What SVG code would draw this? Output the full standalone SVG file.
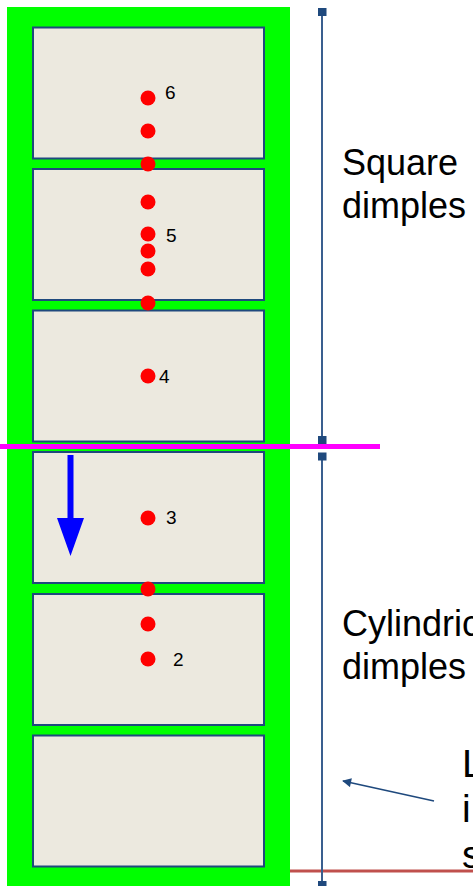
<svg xmlns="http://www.w3.org/2000/svg" width="473" height="886" viewBox="0 0 473 886">
<style>
.box{fill:#ece9df;stroke:#1f497d;stroke-width:2}
.dot{fill:#ff0000}
.num{font-family:"Liberation Sans",Arial,sans-serif;font-size:19px;fill:#000}
.lbl{font-family:"Liberation Sans",Arial,sans-serif;font-size:36px;fill:#000}
.lbl2{font-family:"Liberation Sans",Arial,sans-serif;font-size:39px;fill:#000}
.dim{stroke:#3a5f8f;stroke-width:2;fill:none}
.mk{fill:#1f497d}
</style>
<defs>
<marker id="ah" viewBox="0 0 10 10" refX="9" refY="5" markerWidth="12" markerHeight="9" markerUnits="userSpaceOnUse" orient="auto">
<path d="M0,0 L10,5 L0,10 z" fill="#1f497d"/>
</marker>
</defs>
<rect id="frame" x="7" y="7" width="283" height="879" fill="#00ff00"/>
<g id="box1"><rect class="box" x="33" y="27.5" width="231" height="131"/></g>
<g id="box2"><rect class="box" x="33" y="169" width="231" height="131"/></g>
<g id="box3"><rect class="box" x="33" y="310.5" width="231" height="131"/></g>
<g id="box4"><rect class="box" x="33" y="452" width="231" height="131"/></g>
<g id="box5"><rect class="box" x="33" y="594" width="231" height="131"/></g>
<g id="box6"><rect class="box" x="33" y="735.5" width="231" height="131"/></g>
<g id="dots">
<circle class="dot" cx="148" cy="98" r="7.5"/>
<circle class="dot" cx="148" cy="131" r="7.5"/>
<circle class="dot" cx="148" cy="164" r="7.5"/>
<circle class="dot" cx="148" cy="202" r="7.5"/>
<circle class="dot" cx="148" cy="234" r="7.5"/>
<circle class="dot" cx="148" cy="251" r="7.5"/>
<circle class="dot" cx="148" cy="269" r="7.5"/>
<circle class="dot" cx="148" cy="303" r="7.5"/>
<circle class="dot" cx="148" cy="376" r="7.5"/>
<circle class="dot" cx="148" cy="518" r="7.5"/>
<circle class="dot" cx="148" cy="589" r="7.5"/>
<circle class="dot" cx="148" cy="624" r="7.5"/>
<circle class="dot" cx="148" cy="659" r="7.5"/>
</g>
<g id="numbers">
<text class="num" x="165" y="99">6</text>
<text class="num" x="166" y="242">5</text>
<text class="num" x="159" y="383">4</text>
<text class="num" x="166" y="524">3</text>
<text class="num" x="173" y="666">2</text>
</g>
<g id="connectors">
<line x1="0" y1="446.5" x2="380" y2="446.5" stroke="#ff00ff" stroke-width="5"/>
<line x1="290" y1="871" x2="473" y2="871" stroke="#c0504d" stroke-width="3"/>
<path d="M67.5,455 H73.5 V518 H84 L70.5,556 L57,518 H67.5 Z" fill="#0000ff"/>
<line class="dim" x1="322" y1="12" x2="322" y2="440"/>
<line class="dim" x1="322" y1="456" x2="322" y2="885"/>
<rect class="mk" x="318" y="8" width="8.5" height="8"/>
<rect class="mk" x="318" y="436" width="8.5" height="8"/>
<rect class="mk" x="318" y="452.5" width="8.5" height="8"/>
<rect class="mk" x="318" y="881" width="8.5" height="8"/>
<line x1="434" y1="801" x2="343" y2="781" stroke="#1f497d" stroke-width="1.75" marker-end="url(#ah)"/>
</g>
<g id="labels">
<text class="lbl" x="342" y="175">Square</text>
<text class="lbl" x="342" y="218">dimples</text>
<text class="lbl" x="342" y="636">Cylindrical</text>
<text class="lbl" x="342" y="679">dimples</text>
<text class="lbl2" x="462" y="777">L</text>
<text class="lbl2" x="462" y="822">i</text>
<text class="lbl2" x="462" y="868">s</text>
</g>
</svg>
